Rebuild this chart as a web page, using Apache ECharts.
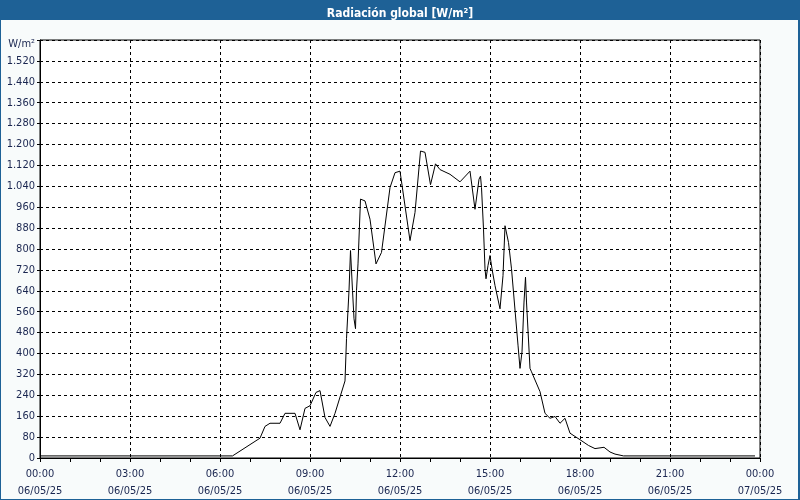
<!DOCTYPE html>
<html>
<head>
<meta charset="utf-8">
<script src="https://cdn.jsdelivr.net/npm/echarts@6/dist/echarts.min.js"></script>
<style>
html,body{margin:0;padding:0;background:#f8fbfb;}
#c{width:800px;height:500px;}
</style>
</head>
<body>
<div id="c"></div>
<script>
// ---- data ----
const chartTitle = 'Radiación global [W/m²]';
const unitLabel = 'W/m²';
const dayStart = [2025, 4, 6];   // 06/05/25
const times = ['00:00','06:20','06:25','07:20','07:30','07:40','08:00','08:10','08:30','08:40','08:50','09:00','09:12','09:20','09:30','09:40','09:50','10:10','10:13','10:18','10:21','10:25','10:28','10:31','10:33','10:36','10:41','10:50','11:00','11:12','11:23','11:40','11:50','12:00','12:20','12:30','12:41','12:50','13:01','13:11','13:20','13:40','14:00','14:20','14:30','14:38','14:41','14:43','14:47','14:50','14:52','14:56','15:00','15:04','15:10','15:20','15:26','15:30','15:37','15:43','15:56','16:00','16:04','16:08','16:11','16:13','16:20','16:23','16:40','16:50','17:00','17:10','17:20','17:30','17:40','18:00','18:17','18:30','18:48','19:00','19:10','19:27','23:50'];
const radiation = [8,8,8,76,121,133,133,171,171,108,190,200,251,258,155,121,171,295,457,641,794,641,533,495,641,743,991,984,914,743,787,1035,1092,1098,832,940,1175,1170,1046,1126,1104,1086,1057,1098,952,1067,1079,1035,876,724,686,737,775,724,660,571,698,889,825,724,432,343,406,597,692,597,343,330,254,171,152,159,133,152,95,70,48,36,41,23,15,8,8];
const yMax = 1600, yStep = 80;
const hourStep = 3;

// ---- build ----
const HOUR = 3600*1000;
function ts(hhmm, dayOffset){
  const p = hhmm.split(':');
  return Date.UTC(dayStart[0], dayStart[1], dayStart[2] + (dayOffset||0), +p[0], +p[1]);
}
const seriesData = times.map((t,i)=>[ts(t), radiation[i]]);
const xMin = ts('00:00'), xMax = ts('00:00', 1);
const pad = n => (n<10?'0':'')+n;
const fontFam = '"DejaVu Sans Condensed","DejaVu Sans",Tahoma,sans-serif';
const txtCol = '#1a2650';

const chart = echarts.init(document.getElementById('c'), null, {renderer:'canvas'});
chart.setOption({
  backgroundColor: '#f8fbfb',
  animation: false,
  textStyle: {fontFamily: fontFam},
  title: {
    text: chartTitle, left: 'center', top: 3,
    textStyle: {color:'#ffffff', fontSize: 12, fontWeight:'bold', fontFamily: fontFam}
  },
  graphic: [
    {type:'rect', z:-1, silent:true, shape:{x:0,y:0,width:800,height:20}, style:{fill:'#1e6196'}},
    {type:'rect', z:-1, silent:true, shape:{x:0,y:0,width:1,height:500}, style:{fill:'#1e6196'}},
    {type:'rect', z:-1, silent:true, shape:{x:798,y:0,width:2,height:500}, style:{fill:'#1e6196'}},
    {type:'rect', z:-1, silent:true, shape:{x:0,y:499,width:800,height:1}, style:{fill:'#1e6196'}}
  ],
  grid: {left:40, right:40, top:40, bottom:40, show:true, backgroundColor:'#ffffff', borderColor:'#000', borderWidth:1},
  xAxis: {
    type:'value', min:xMin, max:xMax, interval: hourStep*HOUR,
    axisLine:{show:true, onZero:false, lineStyle:{color:'#000', width:1}},
    axisTick:{show:true, length:4, lineStyle:{color:'#000'}},
    minorTick:{show:true, splitNumber:hourStep, length:4, lineStyle:{color:'#000'}},
    splitLine:{show:true, lineStyle:{color:'#000', type:[3,3], width:1}},
    axisLabel:{
      color: txtCol, fontSize: 11, fontFamily: fontFam, margin: 8, lineHeight: 17,
      showMinLabel:true, showMaxLabel:true, hideOverlap:false,
      formatter: function(v){
        const d = new Date(v);
        return pad(d.getUTCHours())+':'+pad(d.getUTCMinutes())+'\n'+pad(d.getUTCDate())+'/'+pad(d.getUTCMonth()+1)+'/'+String(d.getUTCFullYear()).slice(2);
      }
    }
  },
  yAxis: {
    type:'value', min:0, max:yMax, interval:yStep,
    axisLine:{show:true, lineStyle:{color:'#000'}},
    axisTick:{show:true, length:3, lineStyle:{color:'#000'}},
    splitLine:{show:true, lineStyle:{color:'#000', type:[3,3], width:1}},
    axisLabel:{
      color: txtCol, fontSize: 11, fontFamily: fontFam, margin: 5,
      formatter: function(v){
        if (v === yMax) return '{u|' + unitLabel + '}';
        return String(v).replace(/\B(?=(\d{3})+(?!\d))/g, '.');
      },
      rich: {u:{color: txtCol, fontSize: 11, fontFamily: fontFam, padding:[9,0,0,0]}}
    }
  },
  series: [{
    type:'line', data: seriesData, showSymbol:false, symbol:'none',
    lineStyle:{color:'#000', width:1}, smooth:false, clip:true
  }]
});
</script>
</body>
</html>
